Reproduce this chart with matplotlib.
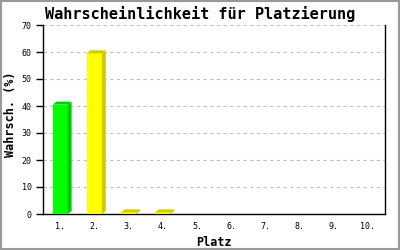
import matplotlib
matplotlib.use("Agg")
import matplotlib.pyplot as plt
from matplotlib.patches import Rectangle, Polygon

categories = ["1.", "2.", "3.", "4.", "5.", "6.", "7.", "8.", "9.", "10."]
values = [40.5, 59.5, 0.6, 0.6, 0, 0, 0, 0, 0, 0]
front_colors = ["#00ff00", "#ffff00", "#ffff00", "#ffff00", "#ffff00",
                "#ffff00", "#ffff00", "#ffff00", "#ffff00", "#ffff00"]
side_colors = ["#00cc00", "#cccc00", "#cccc00", "#cccc00", "#cccc00",
               "#cccc00", "#cccc00", "#cccc00", "#cccc00", "#cccc00"]
yticks = [0, 10, 20, 30, 40, 50, 60, 70]

mono = ["DejaVu Sans Mono"]

fig = plt.figure(figsize=(4, 2.5), dpi=100)
ax = fig.add_axes([43/400, 36/250, 342/400, 189/250])

x = list(range(len(categories)))
width = 0.44
ax.set_xlim(-0.5, len(categories) - 0.5)
ax.set_ylim(0, 70)

for yv in yticks[1:]:
    ax.axhline(yv, color="#c0c0c0", lw=0.8, ls=(0, (3, 3)), zorder=0)

dx, dy = 4, 3
fig.canvas.draw()
for xi, v, fc, sc in zip(x, values, front_colors, side_colors):
    if v <= 0:
        continue
    (x0, y0) = ax.transData.transform((xi - width/2, 0))
    (x1, y1) = ax.transData.transform((xi + width/2, v))
    side = Polygon([(x1, y0), (x1 + dx, y0 + dy), (x1 + dx, y1 + dy), (x1, y1)],
                   closed=True, transform=None, facecolor=sc, edgecolor="none", zorder=2)
    top = Polygon([(x0, y1), (x0 + dx, y1 + dy), (x1 + dx, y1 + dy), (x1, y1)],
                  closed=True, transform=None, facecolor=sc, edgecolor="none", zorder=2)
    fig.add_artist(side)
    fig.add_artist(top)
    ax.bar(xi, v, width=width, color=fc, edgecolor="none", zorder=3)

ax.set_xticks(x)
ax.set_xticklabels(categories, fontfamily=mono, fontsize=6)
ax.set_yticks(yticks)
ax.set_yticklabels([str(t) for t in yticks], fontfamily=mono, fontsize=6)
ax.tick_params(axis="x", length=0, pad=6)
ax.tick_params(axis="y", length=5, width=1, direction="out", pad=3)

for s in ["left", "bottom", "right"]:
    ax.spines[s].set_color("black")
    ax.spines[s].set_linewidth(1)
ax.spines["top"].set_visible(False)

ax.set_xlabel("Platz", fontfamily=mono, fontweight="bold", fontsize=8.5, labelpad=3)
ax.set_ylabel("Wahrsch. (%)", fontfamily=mono, fontweight="bold", fontsize=8.5)
ax.yaxis.set_label_coords(-0.075, 0.53)
fig.text(0.5, 0.975, "Wahrscheinlichkeit für Platzierung", ha="center", va="top",
         fontfamily=mono, fontsize=11, fontweight="bold")

fig.add_artist(Rectangle((0.002, 0.003), 0.995, 0.994, transform=fig.transFigure,
                         fill=False, edgecolor="#999999", lw=1.5))

fig.savefig("out.png", dpi=100)
